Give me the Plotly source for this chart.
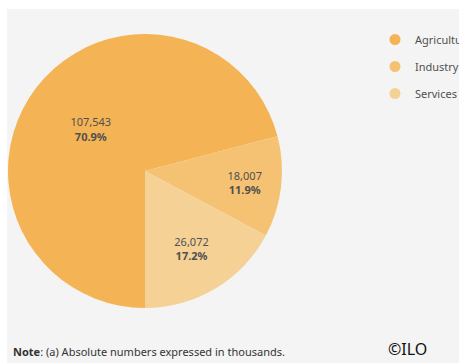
import plotly.graph_objects as go

# Employment by sector (thousands)
sectors = ["Agriculture", "Industry", "Services"]
employment = [107543, 18007, 26072]
shares = [70.9, 11.9, 17.2]
colors = ["#f4b455", "#f5c273", "#f5d196"]

W, H = 459, 363
text_color = "#505050"
font_family = "Noto Sans"

labels_text = [f"{v:,}<br><b>{s}%</b>" for v, s in zip(employment, shares)]

fig = go.Figure()

fig.add_trace(go.Pie(
    labels=sectors,
    values=employment,
    text=labels_text,
    texttemplate="%{text}",
    textinfo="text",
    textposition="inside",
    insidetextorientation="horizontal",
    textfont=dict(family=font_family, size=11, color=text_color),
    marker=dict(colors=colors, line=dict(width=0)),
    sort=False,
    direction="clockwise",
    rotation=180,
    showlegend=False,
    hoverinfo="label+value+percent",
    domain=dict(x=[8 / W, 282 / W], y=[(H - 308) / H, (H - 34) / H]),
))

# Legend entries drawn as round markers
for name, c in zip(sectors, colors):
    fig.add_trace(go.Scatter(
        x=[None], y=[None], mode="markers", name=name, legendgroup=name,
        marker=dict(symbol="circle", size=11, color=c),
        showlegend=True,
    ))

fig.update_layout(
    width=W, height=H,
    margin=dict(l=0, r=0, t=0, b=0, autoexpand=False),
    paper_bgcolor="white",
    plot_bgcolor="rgba(0,0,0,0)",
    xaxis=dict(visible=False),
    yaxis=dict(visible=False),
    font=dict(family=font_family, color=text_color),
    legend=dict(
        x=375 / W, y=(H - 25) / H, xanchor="left", yanchor="top",
        bgcolor="rgba(0,0,0,0)",
        font=dict(family=font_family, size=11, color=text_color),
        itemsizing="trace",
        itemwidth=30,
        tracegroupgap=8,
    ),
    shapes=[dict(
        type="rect", xref="paper", yref="paper", layer="below",
        x0=7 / W, x1=1, y0=0, y1=(H - 9) / H,
        fillcolor="#f4f4f4", line=dict(width=0),
    )],
    annotations=[
        dict(
            text="<b>Note</b>: (a) Absolute numbers expressed in thousands.",
            xref="paper", yref="paper", x=11 / W, y=(H - 351) / H,
            xanchor="left", yanchor="middle", showarrow=False,
            font=dict(family=font_family, size=11, color="#333333"),
        ),
        dict(
            text="©ILO",
            xref="paper", yref="paper", x=386 / W, y=(H - 349) / H,
            xanchor="left", yanchor="middle", showarrow=False,
            font=dict(family=font_family, size=16, color="#111111"),
        ),
    ],
)

fig.write_html("out.html")
